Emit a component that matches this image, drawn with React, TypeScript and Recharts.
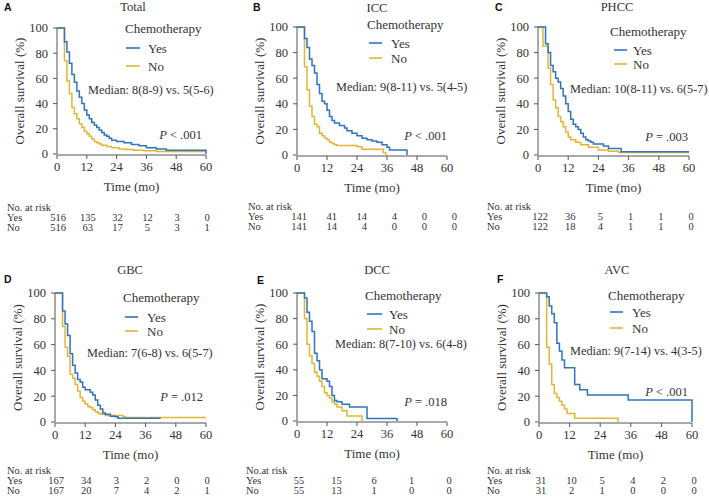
import React from 'react';
import { LineChart, Line, XAxis, YAxis, Customized } from 'recharts';

// ---------- shared ticks ----------
const timeTicks = [0, 12, 24, 36, 48, 60];
const survivalTicks = [0, 20, 40, 60, 80, 100];

// ---------- A: Total ----------
const totalYes = [[0,100],[3,89],[4,81],[5,72],[6,63],[7,57],[8,50],[9,45],[10,40],[11,35],[12,31],[13,28],[14,25],[15,23],[16,21],[17,19],[18,17],[19,15],[20,14],[21,12.5],[22,11],[24,10],[27,9],[30,7.5],[33,6.5],[36,5],[40,4],[44,3],[60,0]];
const totalNo = [[0,100],[3,74],[4,58],[5,48],[6,37],[7,32],[8,28],[9,24],[10,21],[11,18],[12,16],[13,14],[14,12],[15,10],[16,9],[17,8],[18,7],[20,6],[22,5],[25,4],[28,3.5],[31,3],[35,2.5],[40,2],[60,2]];
const totalRiskTimes = [0, 12, 24, 36, 48, 60];
const totalRiskYes = [516, 135, 32, 12, 3, 0];
const totalRiskNo = [516, 63, 17, 5, 3, 1];

// ---------- B: ICC ----------
const iccYes = [[0,100],[3,91],[4,84],[5,75],[6,70],[7,64],[8,55],[9,48],[10,42],[11,40],[12,35],[13,30],[14,27],[15,25],[17,23],[19,21],[20,19],[22,17],[24,15],[26,13],[28,12],[30,11],[32,10],[34,8],[36,6],[37,4],[44,0]];
const iccNo = [[0,100],[3,69],[4,51],[5,38],[6,30],[7,24],[8,22],[9,17],[10,15],[11,13],[12,12],[13,10],[14,9],[15,8],[16,7.5],[24,6.5],[26,4.5],[34.5,2],[35.5,0]];
const iccRiskTimes = [0, 12, 24, 36, 48, 60];
const iccRiskYes = [141, 41, 14, 4, 0, 0];
const iccRiskNo = [141, 14, 4, 0, 0, 0];

// ---------- C: PHCC ----------
const phccYes = [[0,100],[3,87],[4,80],[5,70],[6,65],[7,60],[8,57],[9,52],[10,46],[11,40],[12,34],[13,28],[14,24],[15,22],[16,20],[17,17],[18,14],[19,12],[20,11],[21,10],[22,8.5],[26,7],[28,5],[33,2.5],[60,2.5]];
const phccNo = [[0,100],[2,85],[4,68],[5,55],[6,43],[7,37],[8,30],[9,26],[10,22],[11,18],[12,14],[13,12],[15,10],[17,8],[20,6],[24,4],[28,3],[32,2],[60,2]];
const phccRiskTimes = [0, 12, 24, 36, 48, 60];
const phccRiskYes = [122, 36, 5, 1, 1, 0];
const phccRiskNo = [122, 18, 4, 1, 1, 0];

// ---------- D: GBC ----------
const gbcYes = [[0,100],[3,86],[4,76],[5,67],[6,53],[7,44],[8,38],[9,33],[10,31],[11,27],[12,25],[14,23],[15,21],[16,17],[17,13],[18,10],[19,7],[20,6],[22,4.5],[24,4],[25,3],[42,3]];
const gbcNo = [[0,100],[3,74],[4,58],[5,51],[6,37],[7,34],[8,29],[9,24],[10,19],[11,16],[12,14],[13,12],[14,11],[15,9.5],[16,8],[17,7],[18,6],[20,5],[27,4],[28,3.5],[60,3.5]];
const gbcRiskTimes = [0, 12, 24, 36, 48, 60];
const gbcRiskYes = [167, 34, 3, 2, 0, 0];
const gbcRiskNo = [167, 20, 7, 4, 2, 1];

// ---------- E: DCC ----------
const dccYes = [[0,100],[3,96],[4,85],[5,78],[6,70],[7,53],[8,47],[9,40],[10,33],[12,31],[13,27],[14,20],[15,16],[16,15],[18,13],[21,11],[28,2],[40,0]];
const dccNo = [[0,100],[3,80],[4,60],[5,51],[6,45],[7,38],[8,35],[9,31],[10,27],[11,22],[12,20],[13,18],[14,15],[15,13],[16,11],[18,8],[20,4],[26,0]];
const dccRiskTimes = [0, 12, 24, 36, 48];
const dccRiskYes = [55, 15, 6, 1, 0];
const dccRiskNo = [55, 13, 1, 0, 0];

// ---------- F: AVC ----------
const avcYes = [[0,100],[3,97],[4,90],[5,84],[6,77],[7,61],[8,55],[9,48],[10,42],[14,29],[16,25],[19,21],[35,17],[60,0]];
const avcNo = [[0,100],[3,58],[4,45],[5,29],[6,22],[7,19],[8,16],[9,13],[10,10],[11,6.5],[14,3],[31,0]];
const avcRiskTimes = [0, 12, 24, 36, 48, 60];
const avcRiskYes = [31, 10, 5, 4, 2, 0];
const avcRiskNo = [31, 2, 1, 0, 0, 0];

// ---------- labels ----------
const panelLetters = ['A', 'B', 'C', 'D', 'E', 'F'];
const panelTitles = ['Total', 'ICC', 'PHCC', 'GBC', 'DCC', 'AVC'];
const medianTexts = [
  'Median: 8(8-9) vs. 5(5-6)',
  'Median: 9(8-11) vs. 5(4-5)',
  'Median: 10(8-11) vs. 6(5-7)',
  'Median: 7(6-8) vs. 6(5-7)',
  'Median: 8(7-10) vs. 6(4-8)',
  'Median: 9(7-14) vs. 4(3-5)',
];
const pTexts = [' < .001', ' < .001', ' = .003', ' = .012', ' = .018', ' < .001'];
const riskHeaders = ['No. at risk', 'No. at risk', 'No. at risk', 'No. at risk', 'No.at risk', 'No. at risk'];

// ---------- style ----------
const SERIF = '"Liberation Serif", "DejaVu Serif", serif';
const SANS = '"Liberation Sans", Arial, sans-serif';
const BLUE = '#2f74c0';
const GOLD = '#e3b536';
const INK = '#333333';
const AXIS = '#555555';
const W = 239;
const H = 248;
const Y_AXIS_W = 45;
const X_AXIS_H = 36;
const RISK_AXIS_H = 1;
const RISK_FONT = 10.5;

const toRows = (pts: number[][]) => pts.map(([t, s]) => ({ t, s }));

type Layout = {
  ox: number; oy: number;
  plot: { l: number; r: number; t: number; b: number };
  letter: [number, number]; title: [number, number];
  legendX: number; legendY: number; lineX1: number; lineX2: number; yesY: number; noY: number; legTextX: number;
  median: [number, number]; p: [number, number];
  riskX: number; riskRows: [number, number, number];
  riskAnchor: 'middle' | 'end'; riskDx: number;
};

const layouts: Layout[] = [
  { ox: 0, oy: 0, plot: { l: 57, r: 206, t: 28, b: 154 }, letter: [4, 11], title: [133, 11],
    legendX: 125, legendY: 33, lineX1: 126, lineX2: 140, yesY: 48, noY: 66, legTextX: 148,
    median: [88, 94], p: [202, 139], riskX: 7, riskRows: [211, 221, 231], riskAnchor: 'middle', riskDx: 1 },
  { ox: 230, oy: 0, plot: { l: 297, r: 447, t: 27, b: 155 }, letter: [253, 11], title: [377, 12],
    legendX: 367, legendY: 29, lineX1: 369, lineX2: 382, yesY: 43, noY: 58, legTextX: 391,
    median: [336, 91], p: [447, 140], riskX: 248, riskRows: [210, 220, 230], riskAnchor: 'end', riskDx: 10 },
  { ox: 470, oy: 0, plot: { l: 538, r: 689, t: 27, b: 155 }, letter: [495, 11], title: [617, 11],
    legendX: 610, legendY: 36, lineX1: 614, lineX2: 627, yesY: 50, noY: 64, legTextX: 633,
    median: [570, 93], p: [688, 141], riskX: 487, riskRows: [210, 220, 230], riskAnchor: 'middle', riskDx: 2 },
  { ox: 0, oy: 250, plot: { l: 55, r: 206, t: 293, b: 422 }, letter: [4, 283], title: [130, 274],
    legendX: 123, legendY: 302, lineX1: 125, lineX2: 138, yesY: 317, noY: 331, legTextX: 147,
    median: [87, 357], p: [203, 401], riskX: 7, riskRows: [474, 484, 494], riskAnchor: 'middle', riskDx: 1 },
  { ox: 230, oy: 250, plot: { l: 297, r: 447, t: 293, b: 421 }, letter: [257, 284], title: [377, 274],
    legendX: 365, legendY: 300, lineX1: 367, lineX2: 382, yesY: 314, noY: 329, legTextX: 389,
    median: [335, 348], p: [447, 406], riskX: 246, riskRows: [474, 484, 494], riskAnchor: 'middle', riskDx: 2 },
  { ox: 470, oy: 250, plot: { l: 539, r: 692, t: 293, b: 422 }, letter: [497, 283], title: [617, 274],
    legendX: 608, legendY: 300, lineX1: 610, lineX2: 623, yesY: 312, noY: 328, legTextX: 632,
    median: [570, 355], p: [688, 396], riskX: 487, riskRows: [474, 484, 494], riskAnchor: 'middle', riskDx: 2 },
];

type PanelData = {
  yes: number[][]; no: number[][];
  riskTimes: number[]; riskYes: number[]; riskNo: number[]; riskDomain: [number, number];
};

const panelData: PanelData[] = [
  { yes: totalYes, no: totalNo, riskTimes: totalRiskTimes, riskYes: totalRiskYes, riskNo: totalRiskNo, riskDomain: [0, 60] },
  { yes: iccYes, no: iccNo, riskTimes: iccRiskTimes, riskYes: iccRiskYes, riskNo: iccRiskNo, riskDomain: [0, 60] },
  { yes: phccYes, no: phccNo, riskTimes: phccRiskTimes, riskYes: phccRiskYes, riskNo: phccRiskNo, riskDomain: [0, 60] },
  { yes: gbcYes, no: gbcNo, riskTimes: gbcRiskTimes, riskYes: gbcRiskYes, riskNo: gbcRiskNo, riskDomain: [0, 60] },
  { yes: dccYes, no: dccNo, riskTimes: dccRiskTimes, riskYes: dccRiskYes, riskNo: dccRiskNo, riskDomain: [0, 48] },
  { yes: avcYes, no: avcNo, riskTimes: avcRiskTimes, riskYes: avcRiskYes, riskNo: avcRiskNo, riskDomain: [0, 60] },
];

function KMPanel({ idx }: { idx: number }) {
  const L = layouts[idx];
  const D = panelData[idx];
  const rx = (x: number) => x - L.ox;
  const ry = (y: number) => y - L.oy;
  const l = rx(L.plot.l), r = rx(L.plot.r), t = ry(L.plot.t), b = ry(L.plot.b);
  const margin = { top: t, right: W - r, left: l - Y_AXIS_W, bottom: H - b - X_AXIS_H - RISK_AXIS_H };
  const yesRows = toRows(D.yes);
  const noRows = toRows(D.no);
  // anchor rows for the at-risk axis: one entry per reported time, no drawn mark
  const riskRows = D.riskTimes.map((tm) => ({ t: tm, s: null }));

  const riskTick = (props: any) => {
    const { x, payload } = props;
    const i = D.riskTimes.indexOf(payload.value);
    if (i < 0) return <g />;
    const common = { textAnchor: L.riskAnchor, fontSize: RISK_FONT, fill: INK, fontFamily: SERIF } as any;
    return (
      <g>
        <text x={x + L.riskDx} y={ry(L.riskRows[1])} {...common}>{D.riskYes[i]}</text>
        <text x={x + L.riskDx} y={ry(L.riskRows[2])} {...common}>{D.riskNo[i]}</text>
      </g>
    );
  };

  const Annot = () => (
    <g fontFamily={SERIF} fill={INK}>
      <text x={rx(L.letter[0])} y={ry(L.letter[1])} fontFamily={SANS} fontWeight="bold" fontSize={10.5} fill="#111">{panelLetters[idx]}</text>
      <text x={rx(L.title[0])} y={ry(L.title[1])} textAnchor="middle" fontSize={12.5}>{panelTitles[idx]}</text>
      <text x={rx(L.legendX)} y={ry(L.legendY)} fontSize={13}>Chemotherapy</text>
      <line x1={rx(L.lineX1)} x2={rx(L.lineX2)} y1={ry(L.yesY)} y2={ry(L.yesY)} stroke={BLUE} strokeWidth={1.6} />
      <text x={rx(L.legTextX)} y={ry(L.yesY) + 4.5} fontSize={13}>Yes</text>
      <line x1={rx(L.lineX1)} x2={rx(L.lineX2)} y1={ry(L.noY)} y2={ry(L.noY)} stroke={GOLD} strokeWidth={1.6} />
      <text x={rx(L.legTextX)} y={ry(L.noY) + 4.5} fontSize={13}>No</text>
      <text x={rx(L.median[0])} y={ry(L.median[1])} fontSize={12.3}>{medianTexts[idx]}</text>
      <text x={rx(L.p[0])} y={ry(L.p[1])} textAnchor="end" fontSize={12.5}>
        <tspan fontStyle="italic">P</tspan>
        <tspan>{pTexts[idx]}</tspan>
      </text>
      <text x={rx(L.riskX)} y={ry(L.riskRows[0])} fontSize={RISK_FONT}>{riskHeaders[idx]}</text>
      <text x={rx(L.riskX)} y={ry(L.riskRows[1])} fontSize={RISK_FONT}>Yes</text>
      <text x={rx(L.riskX)} y={ry(L.riskRows[2])} fontSize={RISK_FONT}>No</text>
    </g>
  );

  const tickStyle = { fontSize: 12.5, fill: INK, fontFamily: SERIF };

  return (
    <div style={{ position: 'absolute', left: L.ox, top: L.oy, width: W, height: H }}>
      <LineChart width={W} height={H} margin={margin}>
        <XAxis
          xAxisId="time"
          type="number"
          dataKey="t"
          domain={[0, 60]}
          ticks={timeTicks}
          interval={0}
          height={X_AXIS_H}
          stroke={AXIS}
          tickSize={4}
          tickMargin={3}
          tick={tickStyle}
          label={{ value: 'Time (mo)', position: 'insideBottom', offset: 0, style: { fontSize: 13, fill: INK, fontFamily: SERIF } }}
        />
        <XAxis
          xAxisId="risk"
          type="number"
          dataKey="t"
          domain={D.riskDomain}
          allowDataOverflow
          ticks={D.riskTimes}
          interval={0}
          height={RISK_AXIS_H}
          axisLine={false}
          tickLine={false}
          tick={riskTick}
        />
        <YAxis
          type="number"
          domain={[0, 100]}
          ticks={survivalTicks}
          interval={0}
          width={Y_AXIS_W}
          stroke={AXIS}
          tickSize={4}
          tickMargin={5}
          tick={tickStyle}
          label={{ value: 'Overall survival (%)', angle: -90, position: 'insideLeft', offset: 7, style: { textAnchor: 'middle', fontSize: 13, fill: INK, fontFamily: SERIF } }}
        />
        <Line xAxisId="risk" data={riskRows} dataKey="s" stroke="none" dot={false} activeDot={false} legendType="none" isAnimationActive={false} />
        <Line xAxisId="time" data={noRows} dataKey="s" type="stepAfter" stroke={GOLD} strokeWidth={1.5} dot={false} activeDot={false} isAnimationActive={false} />
        <Line xAxisId="time" data={yesRows} dataKey="s" type="stepAfter" stroke={BLUE} strokeWidth={1.5} dot={false} activeDot={false} isAnimationActive={false} />
        <Customized component={<Annot />} />
      </LineChart>
    </div>
  );
}

export default function App() {
  return (
    <div style={{ position: 'relative', width: 709, height: 498, background: '#fff', fontFamily: SERIF, overflow: 'hidden' }}>
      <style>{'body{margin:0;}'}</style>
      {[0, 1, 2, 3, 4, 5].map((i) => (
        <KMPanel key={i} idx={i} />
      ))}
    </div>
  );
}
